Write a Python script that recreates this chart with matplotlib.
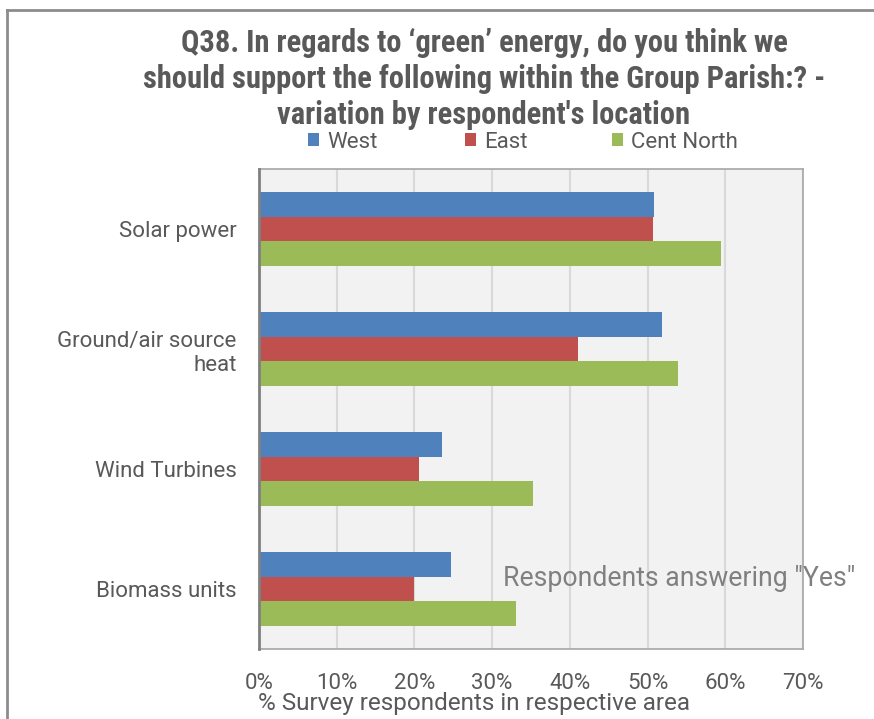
import matplotlib
matplotlib.use("Agg")
import matplotlib.pyplot as plt
from matplotlib.lines import Line2D
from matplotlib.patches import Patch
import numpy as np
from matplotlib.ticker import PercentFormatter, MultipleLocator

categories = ["Solar power", "Ground/air source\nheat", "Wind Turbines", "Biomass units"]
series_names = ["West", "East", "Cent North"]
west = [0.508, 0.518, 0.236, 0.247]
east = [0.507, 0.410, 0.206, 0.200]
cent_north = [0.594, 0.539, 0.352, 0.331]
colors = ["#4F81BD", "#C0504D", "#9BBB59"]

title = ("Q38. In regards to \u2018green\u2019 energy, do you think we\n"
         "should support the following within the Group Parish:? -\n"
         "variation by respondent's location")
xlabel = "% Survey respondents in respective area"
note = "Respondents answering \"Yes\""

plt.rcParams['font.family'] = ['Roboto', 'DejaVu Sans']
title_font = ['Roboto Condensed', 'Roboto', 'DejaVu Sans']
txt = "#595959"

fig = plt.figure(figsize=(8.74, 7.19), dpi=100)
ax = fig.add_axes([259/874, 1-649/719, (803-259)/874, (649-169)/719])
ax.set_facecolor("#F2F2F2")

y = np.arange(len(categories))
h = 0.208
for i, (vals, name, c) in enumerate(zip([west, east, cent_north], series_names, colors)):
    ax.barh(y + (i-1)*h, vals, height=h, color=c, label=name, zorder=3)

ax.set_xlim(0, 0.7)
ax.set_ylim(3.5, -0.5)
ax.xaxis.set_major_locator(MultipleLocator(0.1))
ax.xaxis.set_major_formatter(PercentFormatter(1.0, decimals=0))
ax.set_yticks(y)
ax.set_yticklabels(categories, fontsize=16, color=txt, linespacing=1.2)
ax.tick_params(axis='y', length=0, pad=16)
ax.tick_params(axis='x', length=0, pad=17, labelsize=16, labelcolor=txt)
ax.grid(axis='x', color="#D9D9D9", linewidth=1.5, zorder=0)
for s in ['top', 'right', 'bottom']:
    ax.spines[s].set_color("#A6A6A6")
    ax.spines[s].set_linewidth(1.2)
ax.spines['left'].set_color("#808080")
ax.spines['left'].set_linewidth(2)
ax.spines['left'].set_zorder(4)

ax.set_xlabel(xlabel, fontsize=17.5, color=txt)
ax.xaxis.set_label_coords((474-259)/544, -(692-649)/480)

fig.text(484/874, 1-79/719, title, ha='center', va='center', fontsize=22,
         fontweight='bold', color=txt, linespacing=1.24, family=title_font)

legend_x = [308, 465, 612]
for lx, name, c in zip(legend_x, series_names, colors):
    fig.legend([Patch(facecolor=c, edgecolor='none')], [name], loc='center left',
               bbox_to_anchor=(lx/874, 1-142/719), frameon=False, fontsize=16,
               handlelength=0.5, handleheight=0.5, handletextpad=0.35,
               borderpad=0, borderaxespad=0, labelcolor=txt)

fig.text(503/874, 1-578/719, note, ha='left', va='center', fontsize=19.2, color="#808080")

fig.add_artist(Line2D([7/874, 1], [1-10/719, 1-10/719], transform=fig.transFigure,
                      color="#8C8C8C", linewidth=2))
fig.add_artist(Line2D([7/874, 7/874], [0, 1-10/719], transform=fig.transFigure,
                      color="#8C8C8C", linewidth=2))

fig.savefig("out.png", dpi=100)
